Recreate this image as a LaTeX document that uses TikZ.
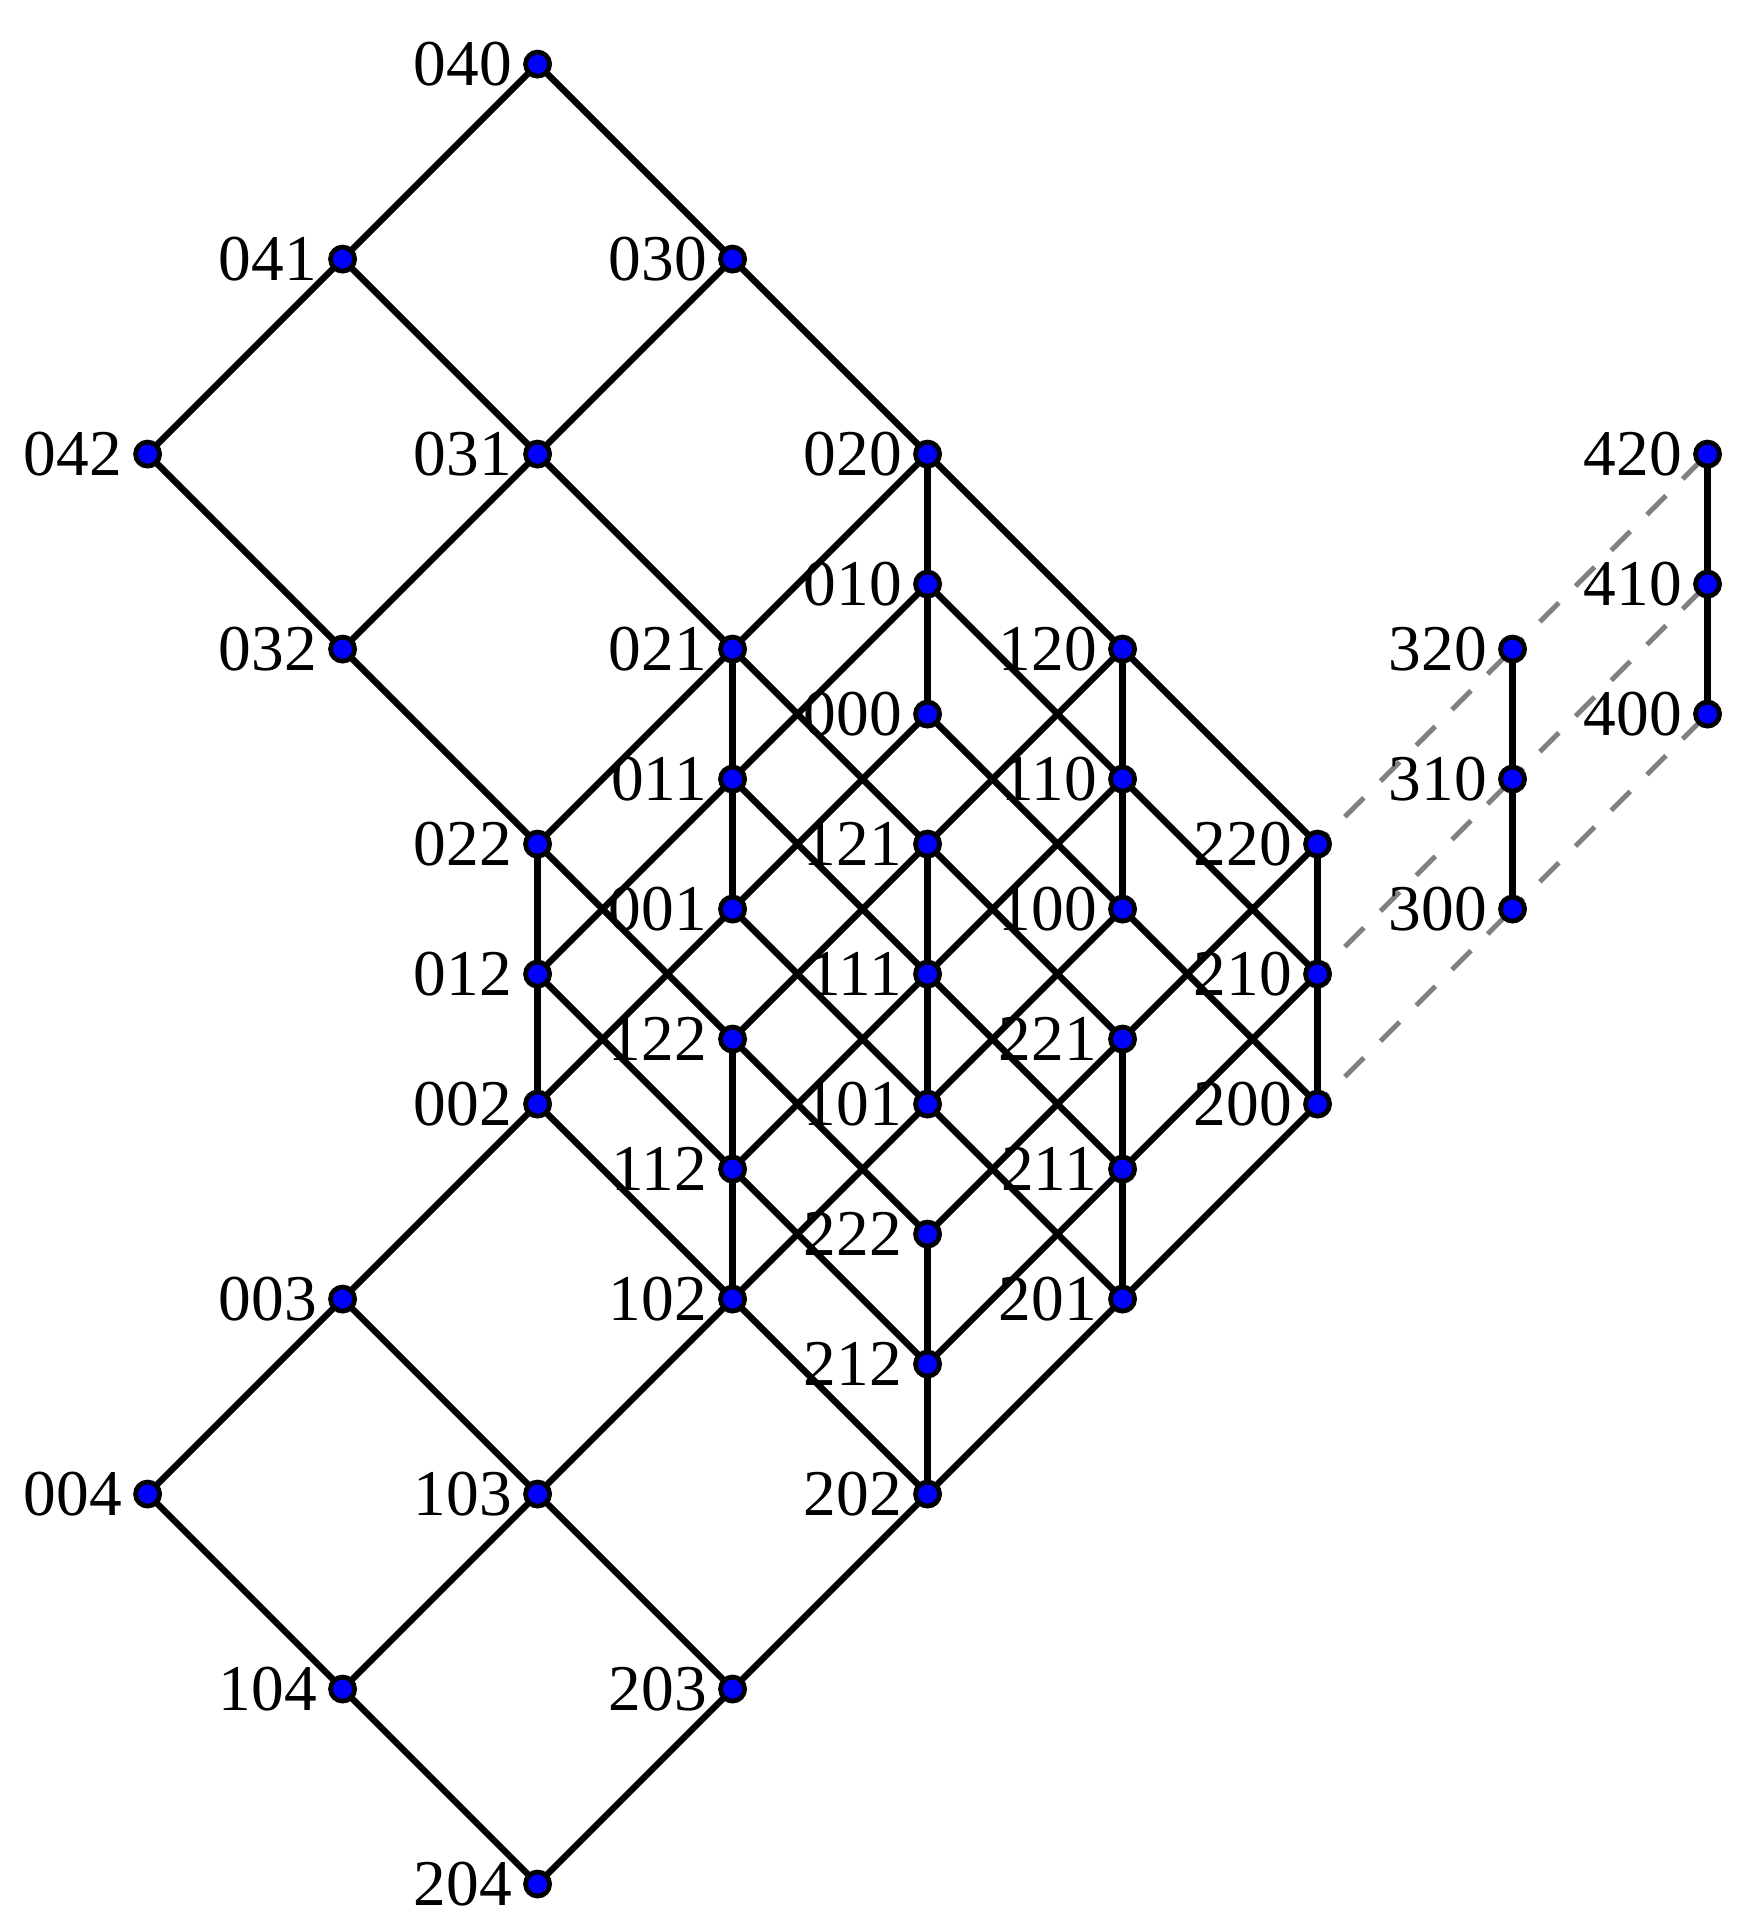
\documentclass[tikz,border=0pt]{standalone}
\usepackage{fontspec}
\setmainfont{Liberation Serif}
\usetikzlibrary{backgrounds}
\begin{document}
\begin{tikzpicture}[x=1.5cm,y=1.5cm,
  dot/.style={circle,fill=blue,draw=black,line width=1.05pt,inner sep=0pt,minimum size=0.185cm},
  every label/.style={inner sep=0pt,font=\fontsize{14.3}{16}\selectfont},
  label distance=2.3pt,
  edge/.style={line width=1.4pt,black},
  dashedge/.style={line width=1.1pt,gray,dash pattern=on 5.9pt off 5.15pt,dash phase=2.6pt}]
\useasboundingbox (-4.757,-6.246) rectangle (4.253,3.662);
% inner cube
\foreach \a in {0,1,2}{\foreach \b in {0,1,2}{\foreach \c in {0,1,2}{
  \node[dot,label=left:{\a\b\c}] (n\a\b\c) at ({\a-\c},{-\a-\c+2*\b/3}) {};}}}
% b = 3,4
\foreach \b in {3,4}{\foreach \c in {0,1,2}{
  \node[dot,label=left:{0\b\c}] (n0\b\c) at ({2-\b-\c},{\b-2/3-\c}) {};}}
% c = 3,4
\foreach \a in {0,1,2}{\foreach \c in {3,4}{
  \node[dot,label=left:{\a0\c}] (n\a0\c) at ({\a-\c},{-\a-\c}) {};}}
% a = 3,4
\foreach \a in {3,4}{\foreach \b in {0,1,2}{
  \node[dot,label=left:{\a\b0}] (n\a\b0) at ({\a},{\a-4+2*\b/3}) {};}}
\begin{scope}[on background layer]
% inner edges
\foreach \a/\an in {0/1,1/2}{\foreach \b in {0,1,2}{\foreach \c in {0,1,2}{
  \draw[edge] (n\a\b\c.center) -- (n\an\b\c.center);
  \draw[edge] (n\b\a\c.center) -- (n\b\an\c.center);
  \draw[edge] (n\b\c\a.center) -- (n\b\c\an.center);}}}
% b outer
\foreach \b/\bn in {2/3,3/4}{\foreach \c in {0,1,2}{
  \draw[edge] (n0\b\c.center) -- (n0\bn\c.center);}}
\foreach \b in {3,4}{\foreach \c/\cn in {0/1,1/2}{
  \draw[edge] (n0\b\c.center) -- (n0\b\cn.center);}}
% c outer
\foreach \c/\cn in {2/3,3/4}{\foreach \a in {0,1,2}{
  \draw[edge] (n\a0\c.center) -- (n\a0\cn.center);}}
\foreach \c in {3,4}{\foreach \a/\an in {0/1,1/2}{
  \draw[edge] (n\a0\c.center) -- (n\an0\c.center);}}
% a outer
\foreach \a/\an in {2/3,3/4}{\foreach \b in {0,1,2}{
  \draw[dashedge] (n\a\b0.center) -- (n\an\b0.center);}}
\foreach \a in {3,4}{\foreach \b/\bn in {0/1,1/2}{
  \draw[edge] (n\a\b0.center) -- (n\a\bn0.center);}}
\end{scope}
\end{tikzpicture}
\end{document}
